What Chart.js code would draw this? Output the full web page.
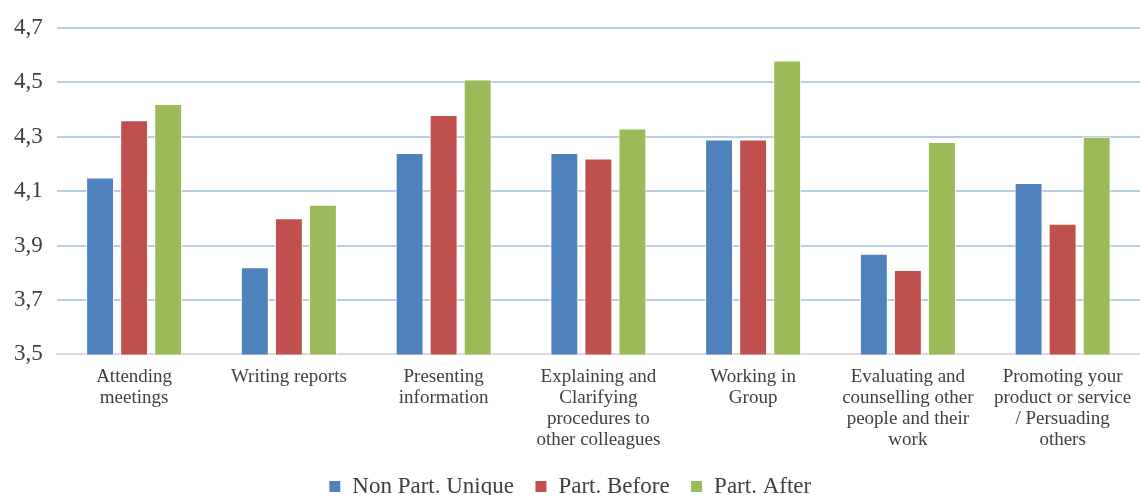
<!DOCTYPE html>
<html>
<head>
<meta charset="utf-8">
<script src="https://cdn.jsdelivr.net/npm/chart.js@4"></script>
<style>
  html, body { margin: 0; padding: 0; background: #fff; }
  #wrap { width: 1140px; height: 495px; }
</style>
</head>
<body>
<div id="wrap"><canvas id="chart"></canvas></div>
<script>
const categories = [
    ['Attending', 'meetings'],
    ['Writing reports'],
    ['Presenting', 'information'],
    ['Explaining and', 'Clarifying', 'procedures to', 'other colleagues'],
    ['Working in', 'Group'],
    ['Evaluating and', 'counselling other', 'people and their', 'work'],
    ['Promoting your', 'product or service', '/ Persuading', 'others']
];
const nonPartUnique = [4.15, 3.82, 4.24, 4.24, 4.29, 3.87, 4.13];
const partBefore = [4.36, 4.00, 4.38, 4.22, 4.29, 3.81, 3.98];
const partAfter = [4.42, 4.05, 4.51, 4.33, 4.58, 4.28, 4.30];
const yTicks = [3.5, 3.7, 3.9, 4.1, 4.3, 4.5, 4.7];

const ctx = document.getElementById('chart');
new Chart(ctx, {
    type: 'bar',
    data: {
        labels: categories,
        datasets: [
            { label: 'Non Part. Unique', data: nonPartUnique, backgroundColor: '#4f81bd', borderColor: '#ffffff', borderWidth: 1 },
            { label: 'Part. Before', data: partBefore, backgroundColor: '#c0504d', borderColor: '#ffffff', borderWidth: 1 },
            { label: 'Part. After', data: partAfter, backgroundColor: '#9bbb59', borderColor: '#ffffff', borderWidth: 1 }
        ]
    },
    options: {
        responsive: true,
        maintainAspectRatio: false,
        animation: false,
        barPercentage: 0.82,
        categoryPercentage: 0.66,
        layout: { padding: { left: 0, right: 0, top: 7, bottom: -13 } },
        plugins: {
            tooltip: { enabled: false },
            legend: {
                position: 'bottom',
                labels: {
                    boxWidth: 12,
                    boxHeight: 12,
                    padding: 21,
                    color: '#404040',
                    font: { family: 'Liberation Serif', size: 23 }
                }
            }
        },
        scales: {
            y: {
                min: 3.5,
                max: 4.7,
                afterBuildTicks: (axis) => { axis.ticks = yTicks.map(v => ({ value: v })); },
                border: { display: false },
                grid: { color: '#b9cde5', lineWidth: 2, drawTicks: false },
                ticks: {
                    padding: 14,
                    color: '#404040',
                    font: { family: 'Liberation Serif', size: 23 },
                    callback: (v) => v.toFixed(1).replace('.', ',')
                }
            },
            x: {
                border: { display: true, color: '#d9d9d9', width: 2 },
                grid: { display: false },
                ticks: {
                    maxRotation: 0,
                    autoSkip: false,
                    padding: 4,
                    color: '#404040',
                    font: { family: 'Liberation Serif', size: 19, lineHeight: 1.1 }
                }
            }
        }
    }
});
</script>
</body>
</html>
